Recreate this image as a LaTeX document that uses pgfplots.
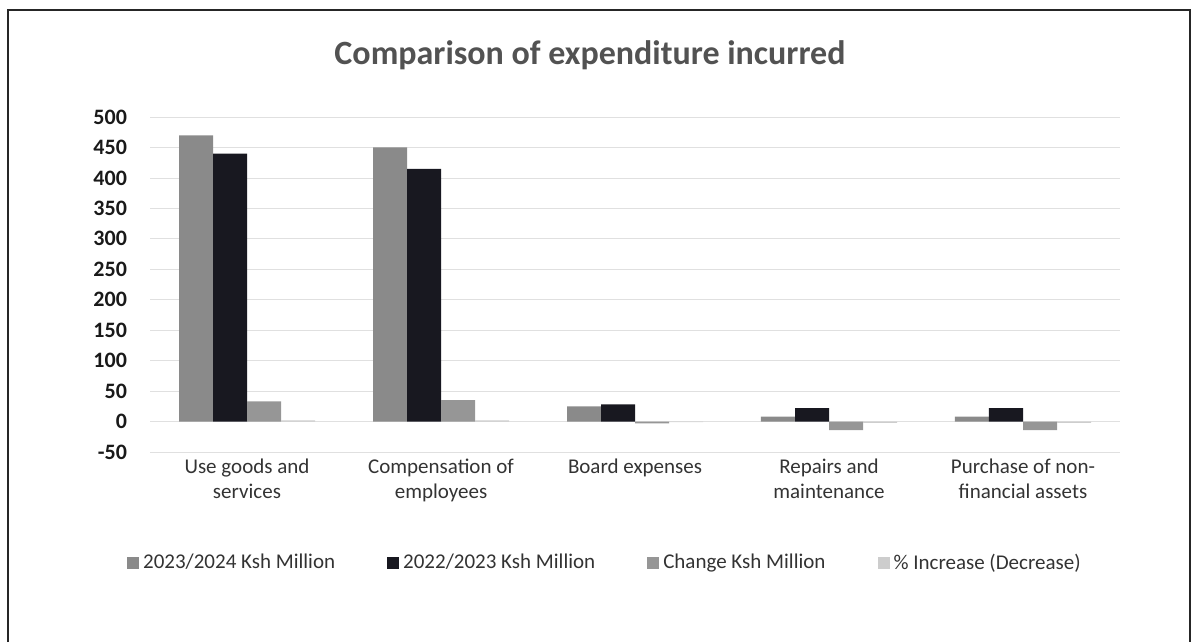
\documentclass[border=0pt]{standalone}
\usepackage{pgfplots}
\pgfplotsset{compat=1.18}
\usepackage{fontspec}
\setmainfont{Carlito}
\definecolor{sA}{RGB}{138,138,138}
\definecolor{sB}{RGB}{24,24,32}
\definecolor{sC}{RGB}{150,150,150}
\definecolor{sD}{RGB}{205,205,205}
\begin{document}
\begin{tikzpicture}[x=1pt,y=1pt]
\path (0,0) rectangle (597,321);
\draw[black!85, line width=0.9pt] (4,0) -- (4,316) -- (595,316) -- (595,0);
\node[font=\fontsize{17}{20}\selectfont\bfseries, text=black!68] at (295,293.5) {Comparison of expenditure incurred};
\begin{axis}[
  at={(75pt,95pt)}, anchor=south west,
  width=485pt, height=167.5pt, scale only axis,
  ymin=-50, ymax=500, xmin=-0.5, xmax=4.5,
  ytick={-50,0,50,...,500},
  xtick={0,1,2,3,4},
  xticklabels={{Use goods and\\services},{Compensation of\\employees},{Board expenses},{Repairs and\\maintenance},{Purchase of non-\\financial assets}},
  xticklabel style={align=center, font=\fontsize{10.5}{12.5}\selectfont, text=black!80},
  yticklabel style={font=\bfseries\fontsize{11}{13}\selectfont, text=black!90, xshift=-8pt},
  /pgf/number format/assume math mode=true,
  ymajorgrids, grid style={black!12},
  axis line style={draw=none},
  major tick length=0pt,
  ybar=0pt, bar width=17pt,
  legend columns=4,
  legend style={draw=none, at={(0.47,-0.331)}, anchor=center, font=\fontsize{10.5}{12.5}\selectfont, text=black!80, /tikz/every even column/.append style={column sep=24pt}},
  legend image code/.code={\fill[#1] (0pt,-3pt) rectangle (6pt,3pt);},
]
\addplot[fill=sA, draw=none] coordinates {(0,470) (1,450) (2,25) (3,8) (4,8)};
\addplot[fill=sB, draw=none] coordinates {(0,440) (1,415) (2,28) (3,22) (4,22)};
\addplot[fill=sC, draw=none] coordinates {(0,33) (1,35) (2,-3) (3,-14) (4,-14)};
\addplot[fill=sD, draw=none] coordinates {(0,2) (1,2) (2,-1) (3,-2) (4,-2)};
\legend{2023/2024 Ksh Million, 2022/2023 Ksh Million, Change Ksh Million, \% Increase (Decrease)}
\end{axis}
\end{tikzpicture}
\end{document}
